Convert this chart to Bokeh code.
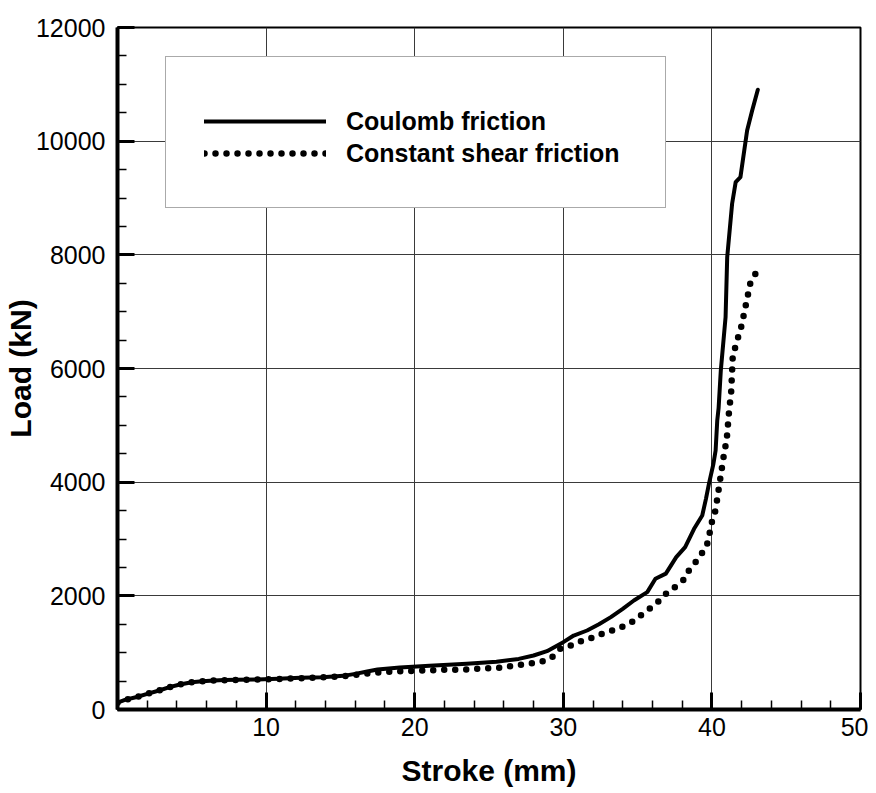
from bokeh.plotting import figure
from bokeh.models import SingleIntervalTicker, Legend, LegendItem, Range1d
from bokeh.embed import file_html
from bokeh.resources import INLINE

# Coulomb friction curve: stroke (mm), load (kN)
coulomb_x = [0.0, 0.5, 1.3, 2.0, 2.8, 3.5, 4.2, 5.0, 5.7, 6.5, 7.2, 8.0, 9.4, 10.8,
             12.3, 13.8, 15.2, 16.0, 16.8, 17.5, 19.0, 21.0, 23.5, 25.5, 27.0, 28.0,
             28.9, 30.0, 30.7, 31.6, 32.4, 33.2, 34.0, 34.75, 35.65, 36.2, 36.9, 37.6,
             38.2, 38.8, 39.35, 39.6, 39.8, 40.1, 40.25, 40.36, 40.45, 40.6, 40.92,
             41.03, 41.36, 41.6, 41.92, 42.37, 42.71, 43.09]
coulomb_y = [120, 170, 220, 276, 334, 393, 440, 480, 498, 510, 518, 522, 528, 540,
             557, 569, 592, 627, 670, 704, 740, 770, 804, 840, 890, 950,
             1026, 1185, 1302, 1390, 1500, 1625, 1770, 1918, 2065, 2300, 2390, 2680,
             2856, 3180, 3414, 3707, 3971, 4320, 4557, 5085, 5300, 5965, 6903,
             7959, 8898, 9279, 9367, 10188, 10540, 10904]

# Constant shear friction curve
shear_x = [0.0, 0.5, 1.3, 2.0, 2.8, 3.5, 4.2, 5.0, 5.7, 6.5, 8.0, 9.4, 10.8, 12.3,
           13.8, 15.2, 16.0, 17.0, 18.0, 19.0, 20.5, 22.0, 23.4, 24.2, 25.0, 25.7,
           26.4, 27.1, 27.9, 28.55, 29.2, 29.8, 30.5, 31.2, 31.9, 32.6, 33.3, 34.0,
           34.6, 35.2, 35.8, 36.4, 36.9, 37.5, 38.1, 38.45, 38.9, 39.35, 39.7, 39.86,
           40.02, 40.24, 40.58, 40.8, 41.0, 41.15, 41.3, 41.4, 41.6, 42.0, 42.16,
           42.3, 42.6, 43.0]
shear_y = [120, 170, 220, 276, 334, 393, 440, 480, 498, 510, 520, 526, 535, 550,
           565, 585, 610, 640, 660, 672, 686, 698, 704, 716, 727, 733,
           762, 786, 815, 845, 909, 1068, 1126, 1202, 1261, 1331, 1390, 1460,
           1536, 1654, 1771, 1900, 2035, 2152, 2282, 2446, 2592, 2757, 2927, 3120,
           3326, 3502, 4088, 4469, 4760, 5232, 5600, 6199, 6405, 6757, 6963,
           7138, 7520, 7696]

series_labels = ["Coulomb friction", "Constant shear friction"]
x_title = "Stroke (mm)"
y_title = "Load (kN)"

FONT = "Liberation Sans"

p = figure(width=868, height=790, output_backend="svg", toolbar_location=None,
           x_range=Range1d(0, 50), y_range=Range1d(0, 12000),
           min_border_left=117, min_border_right=8, min_border_top=27,
           min_border_bottom=81)
p.background_fill_color = "white"
p.outline_line_color = "black"
p.outline_line_width = 2

for ax, tick in ((p.xaxis, SingleIntervalTicker(interval=10, num_minor_ticks=5)),
                 (p.yaxis, SingleIntervalTicker(interval=2000, num_minor_ticks=4))):
    ax.ticker = tick
    ax.axis_line_width = 4
    ax.axis_line_color = "black"
    ax.major_tick_in = 17
    ax.major_tick_out = 0
    ax.minor_tick_in = 9
    ax.minor_tick_out = 0
    ax.major_tick_line_width = 3
    ax.minor_tick_line_width = 1.5
    ax.major_tick_line_color = "black"
    ax.minor_tick_line_color = "black"
    ax.major_label_text_font = FONT
    ax.major_label_text_font_size = "25px"
    ax.major_label_text_color = "black"
    ax.axis_label_text_font = FONT
    ax.axis_label_text_font_size = "30px"
    ax.axis_label_text_font_style = "bold"
    ax.axis_label_text_color = "black"

p.xaxis.major_label_overrides = {0: ""}
p.xaxis.major_label_standoff = 8
p.xaxis.axis_label_standoff = 15
p.yaxis.major_label_standoff = 12
p.yaxis.axis_label_standoff = -4
p.yaxis.major_label_orientation = "horizontal"
p.xaxis.axis_label = x_title
p.yaxis.axis_label = y_title

p.xgrid.ticker = p.xaxis[0].ticker
p.ygrid.ticker = p.yaxis[0].ticker
p.grid.grid_line_color = "#3a3a3a"
p.grid.grid_line_width = 1

r1 = p.line(coulomb_x, coulomb_y, line_color="black", line_width=4,
            line_join="round", line_cap="round")
r2 = p.line(shear_x, shear_y, line_color="black", line_width=6.5,
            line_dash="0 11", line_cap="round")

legend = Legend(items=[LegendItem(label=series_labels[0], renderers=[r1]),
                       LegendItem(label=series_labels[1], renderers=[r2])],
                location=(48, 501), orientation="vertical")
legend.title = " "
legend.title_text_font_size = "8px"
legend.title_standoff = 1
legend.margin = 0
legend.padding = 38
legend.spacing = 0
legend.glyph_width = 122
legend.glyph_height = 32
legend.label_height = 32
legend.label_width = 281
legend.label_standoff = 20
legend.label_text_font = FONT
legend.label_text_font_size = "25px"
legend.label_text_font_style = "bold"
legend.label_text_color = "black"
legend.border_line_color = "#555555"
legend.border_line_width = 1.5
legend.background_fill_color = "white"
legend.background_fill_alpha = 1.0
p.add_layout(legend, "center")

open("out.html", "w").write(file_html(p, INLINE))
